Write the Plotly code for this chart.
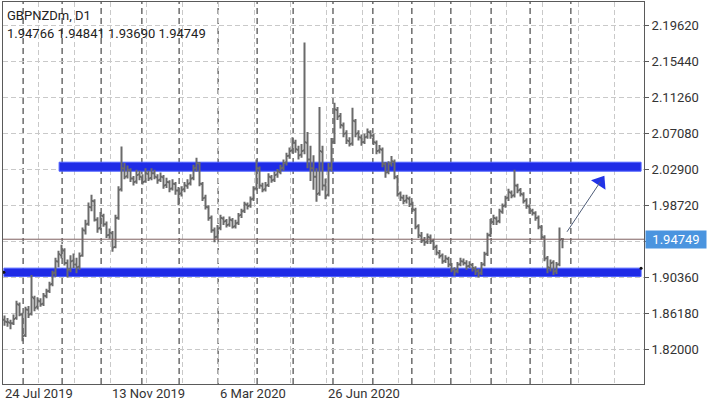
import plotly.graph_objects as go

# ---------------- data (bar index based, GBPNZDm D1) ----------------
open_prices = [
 1.8540,1.8515,1.8505,1.8500,1.8560,1.8715,1.8600,1.8360,1.8655,1.8610,
 1.8790,1.8690,1.8755,1.8725,1.8815,1.8875,1.8955,1.9085,1.9215,1.9290,
 1.9345,1.9200,1.9125,1.9225,1.9180,1.9155,1.9285,1.9575,1.9655,1.9845,
 1.9915,1.9700,1.9605,1.9745,1.9650,1.9525,1.9545,1.9385,1.9725,2.0055,
 2.0295,2.0205,2.0275,2.0180,2.0145,2.0225,2.0195,2.0145,2.0235,2.0185,
 2.0240,2.0195,2.0165,2.0195,2.0105,2.0135,2.0065,2.0115,2.0040,2.0005,
 2.0055,2.0095,2.0125,2.0185,2.0305,2.0355,2.0115,1.9955,1.9845,1.9725,
 1.9580,1.9505,1.9605,1.9715,1.9685,1.9645,1.9695,1.9625,1.9665,1.9755,
 1.9805,1.9875,1.9865,1.9945,2.0065,2.0295,2.0095,2.0055,2.0105,2.0195,
 2.0165,2.0225,2.0255,2.0305,2.0365,2.0445,2.0505,2.0595,2.0515,2.0455,
 2.0505,2.0595,2.0400,2.0300,2.0200,2.0010,2.0490,2.0100,1.9990,2.0300,
 2.0610,2.0975,2.0905,2.0795,2.0705,2.0615,2.0585,2.0845,2.0705,2.0655,
 2.0605,2.0665,2.0715,2.0675,2.0595,2.0505,2.0515,2.0345,2.0255,2.0355,
 2.0375,2.0195,2.0005,1.9955,1.9925,1.9945,1.9885,1.9815,1.9625,1.9515,
 1.9465,1.9445,1.9495,1.9455,1.9385,1.9315,1.9285,1.9225,1.9245,1.9175,
 1.9125,1.9105,1.9185,1.9215,1.9195,1.9165,1.9175,1.9135,1.9105,1.9085,
 1.9185,1.9305,1.9525,1.9675,1.9715,1.9685,1.9795,1.9865,1.9955,2.0015,
 1.9985,2.0095,2.0045,1.9995,1.9925,1.9855,1.9805,1.9775,1.9725,1.9615,
 1.9495,1.9255,1.9145,1.9205,1.9105,1.9185,1.94766]
high_prices = [
 1.8590,1.8560,1.8540,1.8600,1.8760,1.8740,1.8620,1.8690,1.8700,1.9060,
 1.8820,1.8800,1.8790,1.8850,1.8900,1.8980,1.9110,1.9260,1.9340,1.9410,
 1.9370,1.9240,1.9290,1.9310,1.9260,1.9320,1.9610,1.9700,1.9900,1.9990,
 1.9940,1.9730,1.9790,1.9770,1.9680,1.9600,1.9570,1.9760,2.0090,2.0550,
 2.0360,2.0330,2.0300,2.0210,2.0280,2.0270,2.0230,2.0300,2.0270,2.0300,
 2.0280,2.0230,2.0250,2.0220,2.0190,2.0160,2.0170,2.0140,2.0080,2.0090,
 2.0140,2.0170,2.0230,2.0340,2.0420,2.0370,2.0140,1.9990,1.9870,1.9750,
 1.9610,1.9640,1.9760,1.9740,1.9710,1.9740,1.9720,1.9700,1.9780,1.9830,
 1.9910,1.9900,1.9970,2.0090,2.0400,2.0320,2.0130,2.0140,2.0240,2.0220,
 2.0260,2.0290,2.0340,2.0400,2.0480,2.0540,2.0660,2.0630,2.0560,2.0580,
 2.1760,2.0720,2.0560,2.0450,2.0300,2.1010,2.0560,2.0180,2.0360,2.0650,
 2.1060,2.1010,2.0940,2.0830,2.0740,2.0660,2.1000,2.0870,2.0740,2.0690,
 2.0700,2.0760,2.0740,2.0700,2.0620,2.0570,2.0540,2.0370,2.0380,2.0440,
 2.0400,2.0220,2.0030,1.9990,1.9990,1.9970,1.9910,1.9840,1.9650,1.9560,
 1.9500,1.9540,1.9530,1.9480,1.9410,1.9350,1.9310,1.9290,1.9270,1.9200,
 1.9150,1.9210,1.9260,1.9250,1.9230,1.9220,1.9200,1.9160,1.9130,1.9210,
 1.9330,1.9550,1.9710,1.9760,1.9740,1.9830,1.9890,1.9980,2.0060,2.0040,
 2.0280,2.0120,2.0070,2.0020,1.9950,1.9880,1.9830,1.9800,1.9750,1.9640,
 1.9520,1.9280,1.9240,1.9230,1.9210,1.9610,1.94841]
low_prices = [
 1.8470,1.8460,1.8430,1.8480,1.8540,1.8580,1.8290,1.8340,1.8560,1.8590,
 1.8640,1.8660,1.8690,1.8700,1.8790,1.8850,1.8930,1.9040,1.9150,1.9250,
 1.9170,1.9030,1.9090,1.9140,1.9080,1.9120,1.9270,1.9530,1.9630,1.9800,
 1.9680,1.9550,1.9580,1.9620,1.9490,1.9480,1.9330,1.9370,1.9700,2.0030,
 2.0170,2.0180,2.0140,2.0100,2.0120,2.0160,2.0110,2.0130,2.0150,2.0160,
 2.0170,2.0120,2.0140,2.0060,2.0070,2.0020,2.0040,1.9990,1.9870,1.9970,
 2.0020,2.0060,2.0100,2.0160,2.0260,2.0090,1.9920,1.9820,1.9690,1.9550,
 1.9440,1.9480,1.9580,1.9640,1.9610,1.9620,1.9600,1.9600,1.9640,1.9720,
 1.9780,1.9820,1.9840,1.9920,2.0040,2.0060,2.0020,2.0030,2.0080,2.0130,
 2.0140,2.0190,2.0230,2.0270,2.0330,2.0410,2.0470,2.0480,2.0400,2.0420,
 2.0460,2.0300,2.0150,2.0050,1.9910,1.9980,2.0040,1.9940,1.9970,2.0260,
 2.0580,2.0860,2.0760,2.0660,2.0580,2.0550,2.0560,2.0660,2.0620,2.0560,
 2.0580,2.0640,2.0640,2.0570,2.0460,2.0470,2.0310,2.0190,2.0230,2.0320,
 2.0170,1.9970,1.9920,1.9880,1.9890,1.9850,1.9790,1.9590,1.9490,1.9430,
 1.9400,1.9420,1.9420,1.9350,1.9290,1.9250,1.9190,1.9200,1.9150,1.9090,
 1.9050,1.9080,1.9160,1.9170,1.9120,1.9140,1.9100,1.9060,1.9030,1.9060,
 1.9160,1.9280,1.9500,1.9640,1.9640,1.9660,1.9770,1.9840,1.9920,1.9950,
 1.9960,2.0010,1.9970,1.9890,1.9830,1.9770,1.9750,1.9690,1.9590,1.9470,
 1.9220,1.9080,1.9100,1.9060,1.9070,1.9160,1.93690]
close_prices = [
 1.8520,1.8510,1.8500,1.8550,1.8720,1.8600,1.8350,1.8660,1.8600,1.8800,
 1.8680,1.8760,1.8720,1.8820,1.8870,1.8950,1.9080,1.9220,1.9300,1.9350,
 1.9200,1.9120,1.9220,1.9180,1.9150,1.9280,1.9580,1.9650,1.9850,1.9920,
 1.9700,1.9600,1.9750,1.9650,1.9520,1.9550,1.9380,1.9720,2.0050,2.0300,
 2.0200,2.0280,2.0180,2.0140,2.0220,2.0200,2.0140,2.0240,2.0180,2.0240,
 2.0200,2.0160,2.0200,2.0100,2.0140,2.0060,2.0120,2.0040,2.0000,2.0050,
 2.0100,2.0120,2.0180,2.0300,2.0360,2.0120,1.9950,1.9850,1.9720,1.9580,
 1.9500,1.9600,1.9720,1.9680,1.9640,1.9700,1.9620,1.9660,1.9750,1.9800,
 1.9880,1.9860,1.9940,2.0060,2.0300,2.0100,2.0050,2.0100,2.0200,2.0160,
 2.0220,2.0260,2.0300,2.0360,2.0440,2.0500,2.0600,2.0520,2.0450,2.0500,
 2.0600,2.0400,2.0300,2.0200,2.0000,2.0500,2.0100,1.9980,2.0300,2.0600,
 2.0980,2.0900,2.0800,2.0700,2.0620,2.0580,2.0850,2.0700,2.0660,2.0600,
 2.0660,2.0720,2.0680,2.0600,2.0500,2.0520,2.0350,2.0250,2.0350,2.0380,
 2.0200,2.0000,1.9960,1.9920,1.9950,1.9880,1.9820,1.9620,1.9520,1.9460,
 1.9440,1.9500,1.9450,1.9380,1.9320,1.9280,1.9220,1.9250,1.9180,1.9120,
 1.9100,1.9180,1.9220,1.9200,1.9160,1.9180,1.9140,1.9100,1.9080,1.9180,
 1.9300,1.9520,1.9680,1.9720,1.9680,1.9800,1.9860,1.9950,2.0020,1.9980,
 2.0100,2.0040,2.0000,1.9920,1.9860,1.9800,1.9780,1.9720,1.9620,1.9500,
 1.9250,1.9150,1.9200,1.9100,1.9180,1.9470,1.94749]
bar_index = list(range(len(close_prices)))

symbol_title = "GBPNZDm, D1"
last_bar = {"open": 1.94766, "high": 1.94841, "low": 1.93690, "close": 1.94749}

# price axis ticks
price_ticks = [1.82000, 1.86180, 1.90360, 1.94540, 1.98720, 2.02900,
               2.07080, 2.11260, 2.15440, 2.19620]
# time labels (bar index where the label starts)
time_labels = ["24 Jul 2019", "13 Nov 2019", "6 Mar 2020", "26 Jun 2020"]
time_label_bars = [-0.45, 35.2, 71.3, 107.3]
# period separators (bar index)
separator_bars = [6.2, 19.2, 32.2, 45.8, 58.2, 71.2, 84.2, 96.2, 109.5,
                  122.8, 135.8, 148.8, 162.2, 175.2, 188.8]
# drawn objects
resistance_zone = {"x0": 18.2, "x1": 212.2, "y0": 2.0265, "y1": 2.0369}
support_zone = {"x0": -0.2, "x1": 212.2, "y0": 1.9042, "y1": 1.9139}
arrow_from = (187.5, 1.9561)
arrow_head = (198.6, 2.0140)

# ---------------- figure ----------------
X_RANGE = [-0.5, 213.17]
Y_RANGE = [1.7794, 2.2229]
GRID = "#c9c9c9"
BAR = "#6a6a6a"
BLUE = "#1f2be6"

fig = go.Figure()

fig.add_trace(go.Ohlc(
    x=bar_index, open=open_prices, high=high_prices, low=low_prices,
    close=close_prices,
    increasing=dict(line=dict(color=BAR, width=2)),
    decreasing=dict(line=dict(color=BAR, width=2)),
    tickwidth=0.5, hoverinfo="skip", showlegend=False))

# period separators
for sb in separator_bars:
    fig.add_shape(type="line", xref="x", yref="paper", x0=sb, x1=sb, y0=0, y1=1,
                  line=dict(color="#222222", width=1, dash="6px,4px"), layer="below")

# zones
for z in (resistance_zone, support_zone):
    fig.add_shape(type="rect", xref="x", yref="y", x0=z["x0"], x1=z["x1"],
                  y0=z["y0"], y1=z["y1"], fillcolor=BLUE,
                  line=dict(color="#4d60ff", width=1), layer="between")

# current price line
fig.add_shape(type="line", xref="paper", yref="y", x0=0, x1=1,
              y0=last_bar["close"], y1=last_bar["close"],
              line=dict(color="#7e6060", width=1))

# arrow line + head
fig.add_shape(type="line", xref="x", yref="y", x0=arrow_from[0], y0=arrow_from[1],
              x1=arrow_head[0], y1=arrow_head[1],
              line=dict(color="#4f5d78", width=1))
fig.add_trace(go.Scatter(
    x=[arrow_head[0]], y=[arrow_head[1]], mode="markers",
    marker=dict(symbol="triangle-up", size=15, angle=33, color="#2233e6",
                line=dict(color="#2233e6", width=0)),
    hoverinfo="skip", showlegend=False))

# zone anchor dots
fig.add_trace(go.Scatter(
    x=[support_zone["x0"], support_zone["x1"]],
    y=[(support_zone["y0"] + support_zone["y1"]) / 2, support_zone["y1"]],
    mode="markers", marker=dict(size=3, color="#111111"),
    hoverinfo="skip", showlegend=False))

ticktext = [("" if abs(v - 1.94540) < 1e-9 else f"{v:.5f}") for v in price_ticks]

fig.update_layout(
    width=720, height=405,
    margin=dict(l=3, r=76, t=2, b=21),
    paper_bgcolor="white", plot_bgcolor="white",
    font=dict(family="Roboto, 'Noto Sans', sans-serif", size=13, color="#333333"),
    showlegend=False, hovermode=False,
    xaxis=dict(range=X_RANGE, rangeslider=dict(visible=False),
               tick0=-0.83, dtick=12.017, showgrid=True, gridcolor=GRID,
               griddash="5px,3px", gridwidth=1, showticklabels=False,
               zeroline=False, showline=True, mirror=True,
               linecolor="#5a5a5a", linewidth=1, ticks=""),
    yaxis=dict(range=Y_RANGE, side="right", tickvals=price_ticks, ticktext=ticktext,
               showgrid=True, gridcolor=GRID, griddash="5px,3px", gridwidth=1,
               zeroline=False, showline=True, mirror=True, linecolor="#5a5a5a",
               linewidth=1, ticks="outside", ticklen=4, tickcolor="#5a5a5a",
               tickfont=dict(size=13, color="#333333")),
)

annotations = []
for lbl, xb in zip(time_labels, time_label_bars):
    annotations.append(dict(text=lbl, x=xb, xref="x", y=0, yref="paper",
                            xanchor="left", yanchor="top", showarrow=False,
                            yshift=0, font=dict(size=13, color="#333333")))
annotations.append(dict(text=symbol_title, x=0, xref="paper", y=1, yref="paper",
                        xanchor="left", yanchor="top", showarrow=False,
                        xshift=2, yshift=-4, font=dict(size=13, color="#222222")))
annotations.append(dict(
    text=" ".join(f"{last_bar[k]:.5f}" for k in ("open", "high", "low", "close")),
    x=0, xref="paper", y=1, yref="paper", xanchor="left", yanchor="top",
    showarrow=False, xshift=2, yshift=-22, font=dict(size=13, color="#222222")))
annotations.append(dict(
    text=f"{last_bar['close']:.5f}", x=1, xref="paper", y=last_bar["close"], yref="y",
    xanchor="left", yanchor="middle", showarrow=False, xshift=1,
    bgcolor="#4a94df", borderpad=1, width=58, height=15,
    font=dict(size=13, color="white")))
fig.update_layout(annotations=annotations)

fig.write_html("out.html", config={"displayModeBar": False},
               post_script="document.body.style.margin='0';document.body.style.padding='0';")
